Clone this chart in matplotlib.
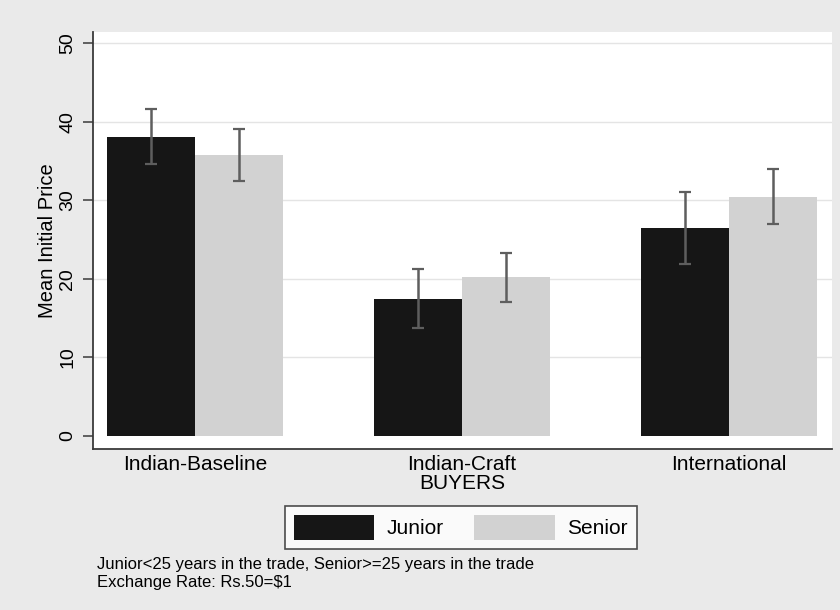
import matplotlib
matplotlib.use("Agg")
import matplotlib.pyplot as plt
from matplotlib.patches import Patch
import numpy as np

plt.rcParams['font.family'] = ['Liberation Sans', 'DejaVu Sans']

# Data: mean initial price by buyer type and seller seniority
buyers = ["Indian-Baseline", "Indian-Craft", "International"]
groups = ["Junior", "Senior"]
junior_mean = [38.1, 17.4, 26.5]
junior_low = [34.6, 13.7, 21.9]
junior_high = [41.6, 21.2, 31.1]
senior_mean = [35.8, 20.2, 30.4]
senior_low = [32.5, 17.1, 27.0]
senior_high = [39.1, 23.3, 34.0]
yticks = [0, 10, 20, 30, 40, 50]
notes = ["Junior<25 years in the trade, Senior>=25 years in the trade",
         "Exchange Rate: Rs.50=$1"]

junior_color = "#161616"
senior_color = "#d2d2d2"
err_color = "#5e5e5e"
axis_color = "#3a3a3a"

fig = plt.figure(figsize=(8.4, 6.1), dpi=100, facecolor="#eaeaea")
ax = fig.add_axes([93 / 840, 1 - 449 / 610, 739 / 840, 417 / 610])
ax.set_facecolor("white")

x = np.arange(len(buyers))
w = 0.33

ax.set_axisbelow(True)
for t in yticks[1:]:
    ax.axhline(t, color="#e4e4e4", lw=1.0, zorder=0)

ax.bar(x - w / 2, junior_mean, width=w, color=junior_color, zorder=2)
ax.bar(x + w / 2, senior_mean, width=w, color=senior_color, zorder=2)

jm = np.array(junior_mean)
sm = np.array(senior_mean)
ax.errorbar(x - w / 2, jm, yerr=[jm - np.array(junior_low), np.array(junior_high) - jm],
            fmt="none", ecolor=err_color, elinewidth=1.8, capsize=4, capthick=1.6, zorder=3)
ax.errorbar(x + w / 2, sm, yerr=[sm - np.array(senior_low), np.array(senior_high) - sm],
            fmt="none", ecolor=err_color, elinewidth=1.8, capsize=4, capthick=1.6, zorder=3)

ax.set_xlim(-0.384, 2.388)
ax.set_ylim(-1.69, 51.44)

ax.set_yticks(yticks)
ax.set_yticklabels([str(t) for t in yticks], rotation=90, va="center", fontsize=14)
ax.set_xticks(x)
ax.set_xticklabels(buyers, fontsize=15)
ax.tick_params(axis="y", direction="out", length=7, width=1.1, color=axis_color, pad=5)
ax.tick_params(axis="x", length=0, pad=4)

ax.set_ylabel("Mean Initial Price", fontsize=14.5, labelpad=1.5)
ax.set_xlabel("BUYERS", fontsize=15, labelpad=0)

for side in ("top", "right"):
    ax.spines[side].set_visible(False)
for side in ("left", "bottom"):
    ax.spines[side].set_color(axis_color)
    ax.spines[side].set_linewidth(1.3)

handles = [Patch(facecolor=junior_color, edgecolor="none"),
           Patch(facecolor=senior_color, edgecolor="none")]
leg = fig.legend(handles, groups, loc="center", bbox_to_anchor=(461 / 840, 1 - 527.5 / 610),
                 ncol=2, fontsize=15, frameon=True, fancybox=False, handlelength=3.85,
                 handleheight=1.4, handletextpad=0.62, columnspacing=1.45, borderpad=0.45)
leg.get_frame().set_edgecolor("#222222")
leg.get_frame().set_linewidth(1.2)
leg.get_frame().set_facecolor("white")

fig.text(97 / 840, 1 - 565 / 610, notes[0], fontsize=12, va="center", ha="left")
fig.text(97 / 840, 1 - 582 / 610, notes[1], fontsize=12, va="center", ha="left")

fig.savefig("out.png", dpi=100, facecolor=fig.get_facecolor())
